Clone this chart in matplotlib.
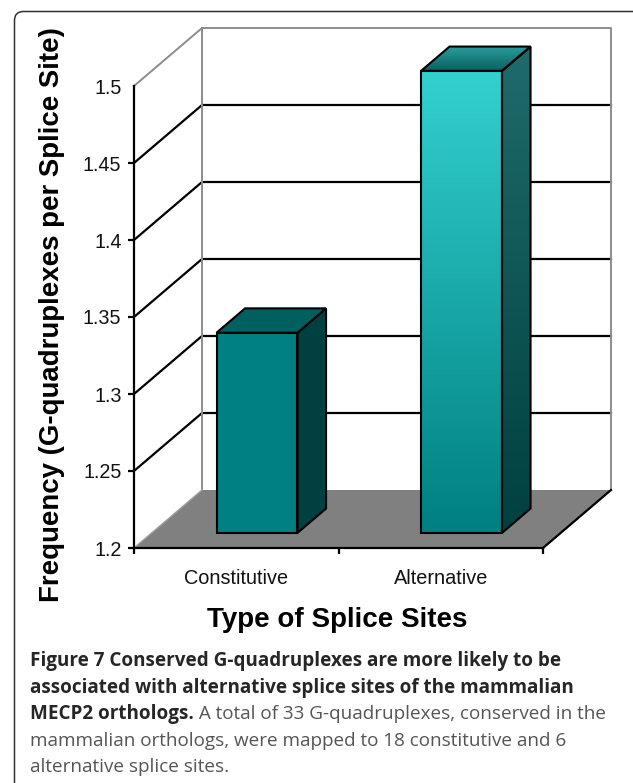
import numpy as np
import matplotlib
matplotlib.use('Agg')
import matplotlib.pyplot as plt
from matplotlib.colors import LinearSegmentedColormap
from matplotlib.patches import Polygon, PathPatch
from matplotlib.path import Path

categories = ['Constitutive', 'Alternative']
values = [1.33, 1.5]
y_ticks = [1.2, 1.25, 1.3, 1.35, 1.4, 1.45, 1.5]
y_tick_labels = ['1.2', '1.25', '1.3', '1.35', '1.4', '1.45', '1.5']
x_title = 'Type of Splice Sites'
y_title = 'Frequency (G-quadruplexes per Splice Site)'
caption_bold = ['Figure 7 Conserved G-quadruplexes are more likely to be',
                'associated with alternative splice sites of the mammalian',
                'MECP2 orthologs.']
caption_rest = [' A total of 33 G-quadruplexes, conserved in the',
                'mammalian orthologs, were mapped to 18 constitutive and 6',
                'alternative splice sites.']

# fake 3d: depth 0 is the front plane, depth 1 the back wall
DX = 68 / 204.5
DY = 58 / 1540
BAR_W = 0.396
BAR_SHIFT = 0.015
D0, D1 = 0.26, 0.68

W, H = 633, 783
plt.rcParams['font.family'] = ['Liberation Sans', 'DejaVu Sans']
fig = plt.figure(figsize=(W / 100, H / 100), dpi=100)

# page layer in pixels, for the frame and the caption
page = fig.add_axes([0, 0, 1, 1])
page.set_xlim(0, W)
page.set_ylim(H, 0)
page.axis('off')
r = 9
frame = Path([(14.5, H), (14.5, 11.5 + r), (14.5, 11.5), (14.5 + r, 11.5), (W, 11.5)],
             [Path.MOVETO, Path.LINETO, Path.CURVE3, Path.CURVE3, Path.LINETO])
page.add_patch(PathPatch(frame, fc='none', ec='#333333', lw=1.1))

ax = fig.add_axes([134 / W, 1 - 548 / H, 409 / W, 462 / H])
ax.patch.set_alpha(0)
ax.set_xlim(0, 2)
ax.set_ylim(1.2, 1.5)


def pt(x, y, d=0.0):
    return (x + d * DX, y + d * DY)


def flat(points, color, z, ec='none', lw=0):
    p = Polygon(points, closed=True, fc=color, ec=ec, lw=lw, zorder=z, clip_on=False)
    ax.add_patch(p)
    return p


def shaded(points, c_low, c_high, z):
    # vertical colour ramp clipped to a polygon
    xs = [p[0] for p in points]
    ys = [p[1] for p in points]
    cmap = LinearSegmentedColormap.from_list('r', [c_low, c_high])
    grad = np.linspace(0, 1, 128).reshape(-1, 1)
    im = ax.imshow(grad, extent=(min(xs), max(xs), min(ys), max(ys)), origin='lower',
                   aspect='auto', cmap=cmap, zorder=z, interpolation='bilinear')
    clip = Polygon(points, closed=True, transform=ax.transData)
    im.set_clip_path(clip)
    im.set_clip_box(fig.bbox)
    flat(points, 'none', z + 0.1, ec='black', lw=1.5)


# floor and walls
flat([pt(0, 1.2), pt(2, 1.2), pt(2, 1.2, 1), pt(0, 1.2, 1)], '#808080', 1)
for y in y_ticks[1:-1]:
    ax.plot(*zip(pt(0, y), pt(0, y, 1), pt(2, y, 1)), color='black', lw=1.6, zorder=2,
            clip_on=False, solid_joinstyle='miter')
ax.plot(*zip(pt(0, 1.5), pt(0, 1.5, 1), pt(2, 1.5, 1), pt(2, 1.2, 1)), color='#8c8c8c', lw=1.4,
        zorder=2, clip_on=False)
ax.plot(*zip(pt(0, 1.5, 1), pt(0, 1.2, 1)), color='#8c8c8c', lw=1.4, zorder=2, clip_on=False)
ax.plot(*zip(pt(0, 1.2), pt(0, 1.2, 1)), color='#a0a0a0', lw=1.0, zorder=2, clip_on=False)
ax.plot(*zip(pt(2, 1.2, 1), pt(2, 1.2, 0)), color='black', lw=1.6, zorder=2, clip_on=False)

# bars
centers = np.arange(len(values)) + 0.5
for c, v in zip(centers, values):
    x0, x1 = c + BAR_SHIFT - BAR_W / 2, c + BAR_SHIFT + BAR_W / 2
    front = [pt(x0, 1.2, D0), pt(x1, 1.2, D0), pt(x1, v, D0), pt(x0, v, D0)]
    side = [pt(x1, 1.2, D0), pt(x1, 1.2, D1), pt(x1, v, D1), pt(x1, v, D0)]
    top = [pt(x0, v, D0), pt(x1, v, D0), pt(x1, v, D1), pt(x0, v, D1)]
    if v < 1.4:
        flat(front, '#008080', 5, ec='black', lw=1.5)
        flat(side, '#004040', 5, ec='black', lw=1.5)
        flat(top, '#006060', 5, ec='black', lw=1.5)
    else:
        shaded(front, '#008080', '#33D0D0', 5)
        shaded(side, '#004040', '#1F6B6B', 5)
        shaded(top, '#0A5F5F', '#2A9E9E', 5)

ax.set_xlim(0, 2)
ax.set_ylim(1.2, 1.5)

# axes
for s in ['top', 'right']:
    ax.spines[s].set_visible(False)
for s in ['left', 'bottom']:
    ax.spines[s].set_linewidth(1.6)
    ax.spines[s].set_zorder(6)
ax.set_yticks(y_ticks)
ax.set_yticklabels(y_tick_labels, fontsize=14.2, color='#111111')
ax.yaxis.get_major_ticks()[-1].tick1line.set_visible(False)
ax.set_xticks([0, 1, 2])
ax.set_xticklabels([])
ax.tick_params(axis='both', width=1.6, length=4, pad=5)
ax.set_xticks(centers, minor=True)
ax.set_xticklabels(categories, minor=True, fontsize=14.3, color='#111111')
ax.tick_params(axis='x', which='minor', length=0, pad=15)

page.text(337, 620, x_title, fontsize=20, fontweight='bold', ha='center', va='center')
page.text(52, 315, y_title, fontsize=19.9, fontweight='bold', rotation=90, ha='center', va='center')

# caption
cap_font = ['Open Sans', 'DejaVu Sans']
cap_size = 13.6
cap_x = 30
ys = [661, 687.5, 714, 741, 767]
for line, y in zip(caption_bold, ys):
    t = page.text(cap_x, y, line, family=cap_font, fontweight='bold', fontsize=cap_size, color='#262626', va='center')
fig.canvas.draw()
x_end = page.transData.inverted().transform(t.get_window_extent().extents[2:])[0]
page.text(x_end, ys[2], caption_rest[0], family=cap_font, fontsize=cap_size, color='#555555', va='center')
for line, y in zip(caption_rest[1:], ys[3:]):
    page.text(cap_x, y, line, family=cap_font, fontsize=cap_size, color='#555555', va='center')

fig.savefig('out.png', dpi=100)
